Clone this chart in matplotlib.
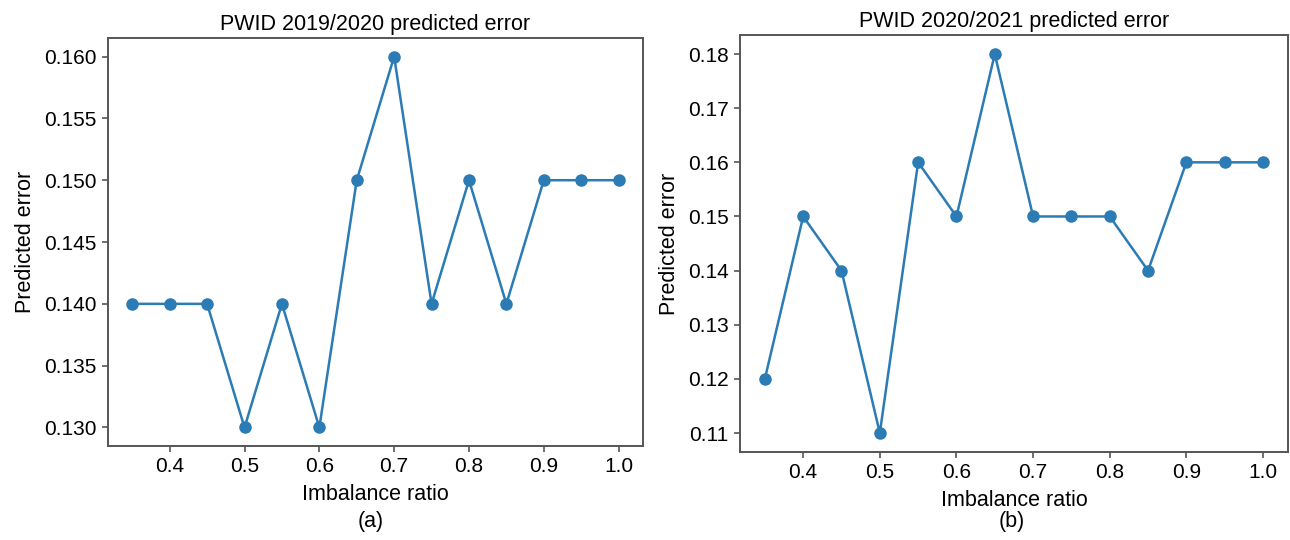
import matplotlib
matplotlib.use('Agg')
import matplotlib.pyplot as plt

# Data.
imbalance_ratio = [0.35, 0.40, 0.45, 0.50, 0.55, 0.60, 0.65,
                   0.70, 0.75, 0.80, 0.85, 0.90, 0.95, 1.00]
error_2019_2020 = [0.14, 0.14, 0.14, 0.13, 0.14, 0.13, 0.15,
                   0.16, 0.14, 0.15, 0.14, 0.15, 0.15, 0.15]
error_2020_2021 = [0.12, 0.15, 0.14, 0.11, 0.16, 0.15, 0.18,
                   0.15, 0.15, 0.15, 0.14, 0.16, 0.16, 0.16]

titles = ['PWID 2019/2020 predicted error', 'PWID 2020/2021 predicted error']
panel_tags = ['(a)', '(b)']
yticks_left = [0.130, 0.135, 0.140, 0.145, 0.150, 0.155, 0.160]
yticks_right = [0.11, 0.12, 0.13, 0.14, 0.15, 0.16, 0.17, 0.18]
xticks = [0.4, 0.5, 0.6, 0.7, 0.8, 0.9, 1.0]

plt.rcParams['font.family'] = ['Liberation Sans', 'DejaVu Sans']

LINE_COLOR = '#2b7bb4'
SPINE_COLOR = '#555555'


def _style_axes(ax):
    for spine in ax.spines.values():
        spine.set_color(SPINE_COLOR)
        spine.set_linewidth(1.4)
    ax.tick_params(axis='both', length=4, width=1.2, color=SPINE_COLOR,
                   labelsize=15, labelcolor='black', pad=4)


def main():
    fig = plt.figure(figsize=(12.9, 5.4), dpi=100)
    ax_a = fig.add_axes([0.0837, 0.174, 0.4147, 0.7556])
    ax_b = fig.add_axes([0.5736, 0.163, 0.4248, 0.772])

    panels = [
        (ax_a, error_2019_2020, yticks_left, '{:.3f}'),
        (ax_b, error_2020_2021, yticks_right, '{:.2f}'),
    ]
    for idx, (ax, errors, yticks, fmt) in enumerate(panels):
        ax.plot(imbalance_ratio, errors, color=LINE_COLOR, linewidth=1.8,
                marker='o', markersize=8)
        ax.set_xticks(xticks)
        ax.set_xticklabels(['{:.1f}'.format(t) for t in xticks])
        ax.set_yticks(yticks)
        ax.set_yticklabels([fmt.format(t) for t in yticks])
        ax.set_title(titles[idx], fontsize=15.5, pad=6)
        ax.set_xlabel('Imbalance ratio', fontsize=15.5, labelpad=6)
        ax.set_ylabel('Predicted error', fontsize=15.5, labelpad=6)
        _style_axes(ax)

    # Panel tags under the x labels.
    fig.text(0.287, 1 - 522 / 540, panel_tags[0], ha='center', va='center',
             fontsize=15.5)
    fig.text(0.784, 1 - 522 / 540, panel_tags[1], ha='center', va='center',
             fontsize=15.5)

    fig.savefig('out.png', dpi=100)
    plt.close(fig)


if __name__ == '__main__':
    main()
